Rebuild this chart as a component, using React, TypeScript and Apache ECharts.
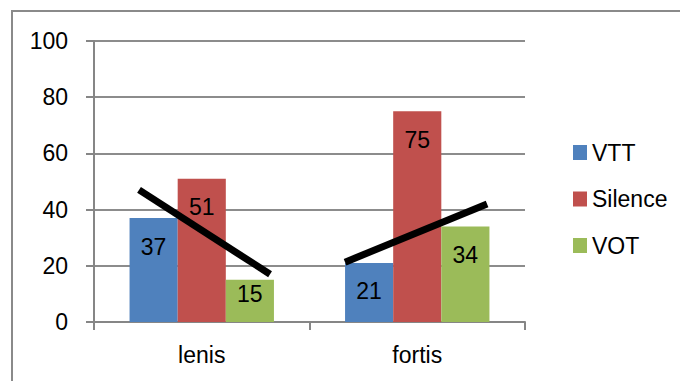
import React, { useEffect, useRef } from "react";
import * as echarts from "echarts";

const categories = ["lenis", "fortis"];
const seriesNames = ["VTT", "Silence", "VOT"];
const vtt = [37, 21];
const silence = [51, 75];
const vot = [15, 34];
const yTicks = [0, 20, 40, 60, 80, 100];
// annotation strokes, in (category-position, value) units
const lenisStroke = [[0.209, 47], [0.817, 17]];
const fortisStroke = [[1.165, 21.3], [1.824, 42]];

const colors = ["#4F81BD", "#C0504D", "#9BBB59"];
const FONT = "'Liberation Sans', Arial, sans-serif";
const FS = 23;

export default function App() {
  const ref = useRef<HTMLDivElement>(null);
  useEffect(() => {
    if (!ref.current) return;
    const chart = echarts.init(ref.current, undefined, { renderer: "svg" });
    const values = [vtt, silence, vot];
    const barSeries = seriesNames.map((name, si) => ({
      name,
      type: "bar",
      xAxisIndex: 0,
      yAxisIndex: 0,
      barGap: "0%",
      barCategoryGap: "33%",
      itemStyle: { color: colors[si] },
      label: {
        show: true,
        position: "insideTop",
        distance: 17,
        color: "#000",
        fontSize: FS,
        fontFamily: FONT,
      },
      data: values[si].map((v) =>
        v < 20 ? { value: v, label: { distance: 3 } } : { value: v }
      ),
    }));
    const strokeSeries = [lenisStroke, fortisStroke].map((d) => ({
      type: "line",
      xAxisIndex: 1,
      yAxisIndex: 0,
      symbol: "none",
      silent: true,
      lineStyle: { color: "#000", width: 7, cap: "butt" },
      data: d,
      z: 5,
    }));
    chart.setOption({
      animation: false,
      textStyle: { fontFamily: FONT },
      color: colors,
      grid: { left: 94, right: 155, top: 41, bottom: 59, containLabel: false },
      legend: {
        orient: "vertical",
        left: 568,
        top: 136,
        itemWidth: 14,
        itemHeight: 15,
        itemGap: 23.5,
        icon: "rect",
        data: seriesNames,
        textStyle: { fontSize: FS, color: "#000", fontFamily: FONT },
      },
      xAxis: [
        {
          type: "category",
          data: categories,
          axisLine: { lineStyle: { color: "#868686", width: 2 } },
          axisTick: { show: true, length: 8, lineStyle: { color: "#868686", width: 2 } },
          axisLabel: { color: "#000", fontSize: FS, margin: 21, fontFamily: FONT },
        },
        {
          type: "value",
          min: 0,
          max: 2,
          show: false,
        },
      ],
      yAxis: {
        type: "value",
        min: 0,
        max: 100,
        interval: 20,
        axisLine: { show: true, lineStyle: { color: "#868686", width: 2 } },
        axisTick: { show: true, length: 8, lineStyle: { color: "#868686", width: 2 } },
        axisLabel: {
          color: "#000",
          fontSize: FS,
          margin: 26,
          fontFamily: FONT,
          formatter: (v: number) => (yTicks.includes(v) ? String(v) : ""),
        },
        splitLine: { lineStyle: { color: "#8c8c8c", width: 2 } },
      },
      graphic: [
        {
          type: "rect",
          shape: { x: 12, y: 11, width: 700, height: 400 },
          style: { fill: "none", stroke: "#8a8a8a", lineWidth: 2 },
          silent: true,
        },
      ],
      series: [...barSeries, ...strokeSeries],
    });
    return () => chart.dispose();
  }, []);
  return (
    <div
      ref={ref}
      style={{ position: "fixed", left: 0, top: 0, width: 680, height: 381, background: "#fff" }}
    />
  );
}
